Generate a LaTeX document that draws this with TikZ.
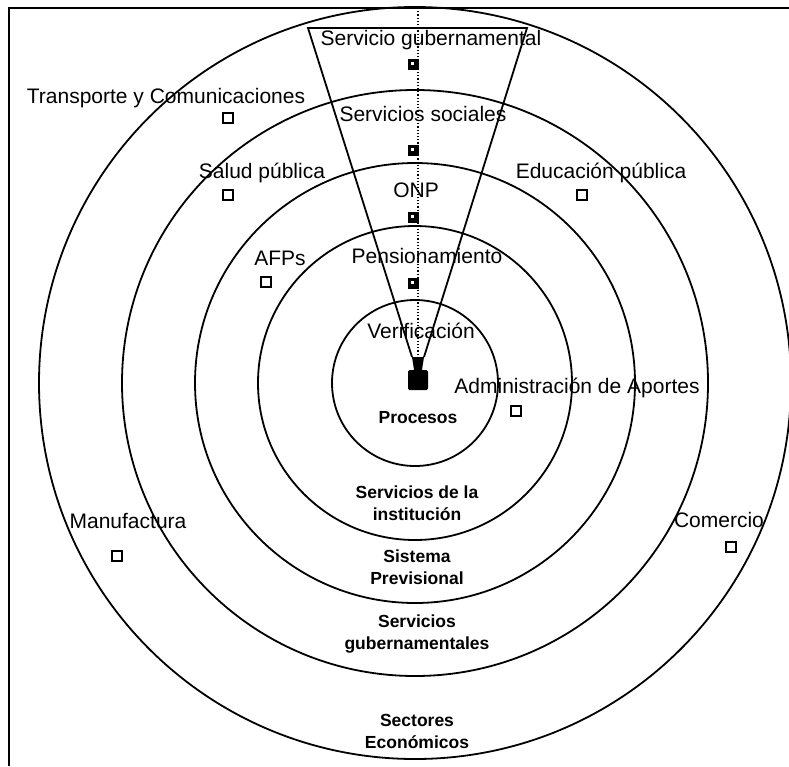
\documentclass[tikz,border=0pt]{standalone}
\usepackage{fontspec}
\setmainfont{Liberation Sans}
\usetikzlibrary{positioning}

\begin{document}
\begin{tikzpicture}[x=1pt,y=-1pt,
  ring/.style={line width=1.8pt},
  lab/.style={font=\fontsize{21}{24}\selectfont,inner sep=0pt,text height=15pt,text depth=4pt},
  zone/.style={font=\bfseries\fontsize{17.5}{22}\selectfont,align=center,inner sep=0pt},
  sq/.style={draw,line width=1.8pt,minimum size=10pt,inner sep=0pt},
  ico/.style={fill=black,minimum width=11pt,minimum height=11pt,inner sep=0pt,
    path picture={\fill[white] ([xshift=3pt,yshift=-3pt]path picture bounding box.north west) rectangle ++(3pt,-3pt);}}]
  \useasboundingbox (0,0) rectangle (789,766);
  \coordinate (c) at (415,383);
  \draw[line width=1.4pt] (9,766) -- (9,8) -- (789,8);
  \foreach \r in {83,157,220,293,376}
    \draw[ring] (c) circle[radius=\r pt];

  \node[fill=black,rounded corners=1.5pt,minimum width=20pt,minimum height=20pt,inner sep=0pt] (hub) at (418,380) {};
  \coordinate (top) at (418,8);
  \coordinate (tl) at (308,28);
  \coordinate (tr) at (527,28);
  \coordinate (fl) at (412,357);
  \coordinate (fr) at (424,357);
  \draw[ring] (fl) -- (tl) -- (tr) -- (fr);
  \fill (fl) -- (fr) -- ([xshift=4pt]hub.north) -- ([xshift=-4pt]hub.north) -- cycle;
  \draw[dotted,line width=1.2pt] (top) -- (hub.north);

  \node[ico] (i1) at (413,64) {};
  \node[ico] (i2) at (413,150) {};
  \node[ico] (i3) at (413,217) {};
  \node[ico] (i4) at (413,283) {};

  \node[lab] (sg) at (431,40) {Servicio gubernamental};
  \node[lab] (ss) at (423,116) {Servicios sociales};
  \node[lab] (onp) at (416,192) {ONP};
  \node[lab] (pen) at (427,258) {Pensionamiento};
  \node[lab] (ver) at (421,333) {Verificación};
  \node[lab] (tc) at (166,98) {Transporte y Comunicaciones};
  \node[lab] (sp) at (262,173) {Salud pública};
  \node[lab] (ep) at (601,173) {Educación pública};
  \node[lab] (afp) at (280,260) {AFPs};
  \node[lab] (adm) at (577,388) {Administración de Aportes};
  \node[lab] (man) at (128,523) {Manufactura};
  \node[lab] (com) at (719,522) {Comercio};

  \node[sq] (q1) at (228,118) {};
  \node[sq] (q2) at (228,195) {};
  \node[sq] (q3) at (266,282) {};
  \node[sq] (q4) at (582,195) {};
  \node[sq] (q5) at (516,411) {};
  \node[sq] (q6) at (117,556) {};
  \node[sq] (q7) at (731,547) {};

  \node[zone] (pro) at (418,418) {Procesos};
  \node[zone] (sdi) at (417,503) {Servicios de la\\institución};
  \node[zone] (spv) at (417,567) {Sistema\\Previsional};
  \node[zone] (sgu) at (417,634) {Servicios\\gubernamentales};
  \node[zone] (sec) at (417,731) {Sectores\\Económicos};
\end{tikzpicture}
\end{document}
